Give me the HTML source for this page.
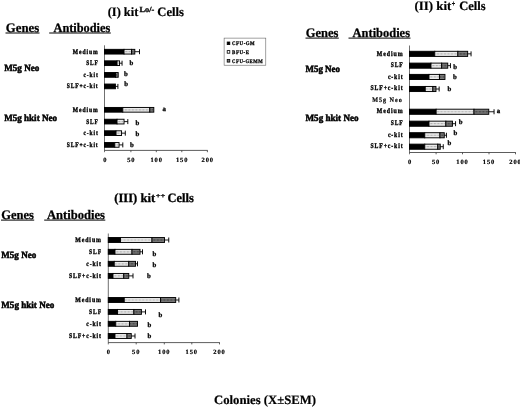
<!DOCTYPE html>
<html><head><meta charset="utf-8"><title>Figure</title>
<style>
html,body{margin:0;padding:0;background:#fff;}
svg{display:block;font-family:"Liberation Serif", serif;text-rendering:geometricPrecision;}
</style></head><body>
<svg width="520" height="407" viewBox="0 0 520 407">
<rect width="520" height="407" fill="#fff"/>
<g font-weight="bold">
<text x="107.7" y="16.3" font-size="12.8" textLength="30.60" lengthAdjust="spacingAndGlyphs" stroke="#000" stroke-width="0.2">(I) kit</text>
<text x="139.5" y="11.5" font-size="7.8" textLength="14.70" lengthAdjust="spacingAndGlyphs" stroke="#000" stroke-width="0.3">Lo/-</text>
<text x="157.3" y="16.3" font-size="12.8" textLength="26.70" lengthAdjust="spacingAndGlyphs" stroke="#000" stroke-width="0.2">Cells</text>
<text x="5.8" y="31.7" font-size="13" textLength="33.40" lengthAdjust="spacingAndGlyphs" stroke="#000" stroke-width="0.25">Genes</text>
<text x="53.5" y="31.7" font-size="13" textLength="56.80" lengthAdjust="spacingAndGlyphs" stroke="#000" stroke-width="0.25">Antibodies</text>
<line x1="5.50" y1="33.00" x2="39.50" y2="33.00" stroke="#000" stroke-width="1.0"/>
<line x1="49.20" y1="33.00" x2="110.80" y2="33.00" stroke="#000" stroke-width="1.0"/>
<text x="4.2" y="71.4" font-size="9.5" textLength="35.10" lengthAdjust="spacingAndGlyphs" stroke="#000" stroke-width="0.5">M5g Neo</text>
<text x="4.2" y="121.0" font-size="9.5" textLength="52.80" lengthAdjust="spacingAndGlyphs" stroke="#000" stroke-width="0.5">M5g hkit Neo</text>
<text x="72.80" y="53.60" font-size="6.9" letter-spacing="1.1" textLength="25.80" lengthAdjust="spacingAndGlyphs" stroke="#000" stroke-width="0.35">Medium</text>
<text x="86.20" y="65.10" font-size="6.9" letter-spacing="1.1" textLength="12.40" lengthAdjust="spacingAndGlyphs" stroke="#000" stroke-width="0.35">SLF</text>
<text x="83.50" y="76.80" font-size="6.9" letter-spacing="1.1" textLength="15.10" lengthAdjust="spacingAndGlyphs" stroke="#000" stroke-width="0.35">c-kit</text>
<text x="66.70" y="88.30" font-size="6.9" letter-spacing="1.1" textLength="31.90" lengthAdjust="spacingAndGlyphs" stroke="#000" stroke-width="0.35">SLF+c-kit</text>
<text x="72.80" y="111.70" font-size="6.9" letter-spacing="1.1" textLength="25.80" lengthAdjust="spacingAndGlyphs" stroke="#000" stroke-width="0.35">Medium</text>
<text x="86.20" y="123.50" font-size="6.9" letter-spacing="1.1" textLength="12.40" lengthAdjust="spacingAndGlyphs" stroke="#000" stroke-width="0.35">SLF</text>
<text x="83.50" y="135.05" font-size="6.9" letter-spacing="1.1" textLength="15.10" lengthAdjust="spacingAndGlyphs" stroke="#000" stroke-width="0.35">c-kit</text>
<text x="66.70" y="146.80" font-size="6.9" letter-spacing="1.1" textLength="31.90" lengthAdjust="spacingAndGlyphs" stroke="#000" stroke-width="0.35">SLF+c-kit</text>
<line x1="104.50" y1="45.30" x2="104.50" y2="152.20" stroke="#222" stroke-width="0.65"/>
<line x1="104.50" y1="150.40" x2="207.70" y2="150.40" stroke="#333" stroke-width="0.8"/>
<text x="105.4" y="161.6" font-size="6.5" text-anchor="middle" letter-spacing="0.9" stroke="#000" stroke-width="0.2">0</text>
<line x1="130.90" y1="150.40" x2="130.90" y2="152.20" stroke="#333" stroke-width="0.8"/>
<text x="131.3" y="161.6" font-size="6.5" text-anchor="middle" letter-spacing="0.9" stroke="#000" stroke-width="0.2">50</text>
<line x1="156.30" y1="150.40" x2="156.30" y2="152.20" stroke="#333" stroke-width="0.8"/>
<text x="156.70000000000002" y="161.6" font-size="6.5" text-anchor="middle" letter-spacing="0.9" stroke="#000" stroke-width="0.2">100</text>
<line x1="181.80" y1="150.40" x2="181.80" y2="152.20" stroke="#333" stroke-width="0.8"/>
<text x="182.20000000000002" y="161.6" font-size="6.5" text-anchor="middle" letter-spacing="0.9" stroke="#000" stroke-width="0.2">150</text>
<line x1="207.40" y1="150.40" x2="207.40" y2="152.20" stroke="#333" stroke-width="0.8"/>
<text x="207.8" y="161.6" font-size="6.5" text-anchor="middle" letter-spacing="0.9" stroke="#000" stroke-width="0.2">200</text>
<rect x="104.50" y="49.35" width="19.55" height="4.70" fill="#000" stroke="#000" stroke-width="0.95"/>
<rect x="124.05" y="49.35" width="7.50" height="4.70" fill="#ebebeb" stroke="#000" stroke-width="0.95"/>
<line x1="124.85" y1="51.70" x2="130.95" y2="51.70" stroke="#9a9a9a" stroke-width="1.2" stroke-dasharray="0.7 0.7"/>
<rect x="131.55" y="49.35" width="3.25" height="4.70" fill="#7a7a7a" stroke="#000" stroke-width="0.95"/>
<line x1="132.35" y1="51.70" x2="134.20" y2="51.70" stroke="#3c3c3c" stroke-width="1.6" stroke-dasharray="0.7 0.7"/>
<line x1="134.80" y1="51.70" x2="139.50" y2="51.70" stroke="#000" stroke-width="0.9"/>
<line x1="139.50" y1="49.20" x2="139.50" y2="54.20" stroke="#000" stroke-width="0.95"/>
<rect x="104.50" y="60.85" width="12.55" height="4.70" fill="#000" stroke="#000" stroke-width="0.95"/>
<rect x="117.05" y="60.85" width="2.50" height="4.70" fill="#ebebeb" stroke="#000" stroke-width="0.95"/>
<line x1="117.85" y1="63.20" x2="118.95" y2="63.20" stroke="#9a9a9a" stroke-width="1.2" stroke-dasharray="0.7 0.7"/>
<line x1="119.55" y1="63.20" x2="122.05" y2="63.20" stroke="#000" stroke-width="0.9"/>
<line x1="122.05" y1="60.70" x2="122.05" y2="65.70" stroke="#000" stroke-width="0.95"/>
<text x="131.3" y="64.5" font-size="6.8" text-anchor="middle" stroke="#000" stroke-width="0.3">b</text>
<rect x="104.50" y="72.55" width="11.00" height="4.70" fill="#000" stroke="#000" stroke-width="0.95"/>
<rect x="115.50" y="72.55" width="2.70" height="4.70" fill="#7a7a7a" stroke="#000" stroke-width="0.95"/>
<line x1="116.30" y1="74.90" x2="117.60" y2="74.90" stroke="#3c3c3c" stroke-width="1.6" stroke-dasharray="0.7 0.7"/>
<text x="126" y="75.8" font-size="6.8" text-anchor="middle" stroke="#000" stroke-width="0.3">b</text>
<rect x="104.50" y="84.05" width="10.90" height="4.70" fill="#000" stroke="#000" stroke-width="0.95"/>
<line x1="115.40" y1="86.40" x2="117.90" y2="86.40" stroke="#000" stroke-width="0.9"/>
<line x1="117.90" y1="83.90" x2="117.90" y2="88.90" stroke="#000" stroke-width="0.95"/>
<text x="126.2" y="86.2" font-size="6.8" text-anchor="middle" stroke="#000" stroke-width="0.3">b</text>
<rect x="104.50" y="107.45" width="18.30" height="4.70" fill="#000" stroke="#000" stroke-width="0.95"/>
<rect x="122.80" y="107.45" width="27.00" height="4.70" fill="#ebebeb" stroke="#000" stroke-width="0.95"/>
<line x1="123.60" y1="109.80" x2="149.20" y2="109.80" stroke="#9a9a9a" stroke-width="1.2" stroke-dasharray="0.7 0.7"/>
<rect x="149.80" y="107.45" width="4.00" height="4.70" fill="#7a7a7a" stroke="#000" stroke-width="0.95"/>
<line x1="150.60" y1="109.80" x2="153.20" y2="109.80" stroke="#3c3c3c" stroke-width="1.6" stroke-dasharray="0.7 0.7"/>
<text x="164.3" y="111.0" font-size="6.8" text-anchor="middle" stroke="#000" stroke-width="0.3">a</text>
<rect x="104.50" y="119.25" width="12.55" height="4.70" fill="#000" stroke="#000" stroke-width="0.95"/>
<rect x="117.05" y="119.25" width="7.00" height="4.70" fill="#ebebeb" stroke="#000" stroke-width="0.95"/>
<line x1="117.85" y1="121.60" x2="123.45" y2="121.60" stroke="#9a9a9a" stroke-width="1.2" stroke-dasharray="0.7 0.7"/>
<line x1="124.05" y1="121.60" x2="127.80" y2="121.60" stroke="#000" stroke-width="0.9"/>
<line x1="127.80" y1="119.10" x2="127.80" y2="124.10" stroke="#000" stroke-width="0.95"/>
<text x="137.4" y="124.8" font-size="6.8" text-anchor="middle" stroke="#000" stroke-width="0.3">b</text>
<rect x="104.50" y="130.80" width="11.55" height="4.70" fill="#000" stroke="#000" stroke-width="0.95"/>
<rect x="116.05" y="130.80" width="5.50" height="4.70" fill="#ebebeb" stroke="#000" stroke-width="0.95"/>
<line x1="116.85" y1="133.15" x2="120.95" y2="133.15" stroke="#9a9a9a" stroke-width="1.2" stroke-dasharray="0.7 0.7"/>
<line x1="121.55" y1="133.15" x2="125.30" y2="133.15" stroke="#000" stroke-width="0.9"/>
<line x1="125.30" y1="130.65" x2="125.30" y2="135.65" stroke="#000" stroke-width="0.95"/>
<text x="137.4" y="135.8" font-size="6.8" text-anchor="middle" stroke="#000" stroke-width="0.3">b</text>
<rect x="104.50" y="142.55" width="10.30" height="4.70" fill="#000" stroke="#000" stroke-width="0.95"/>
<rect x="114.80" y="142.55" width="4.25" height="4.70" fill="#ebebeb" stroke="#000" stroke-width="0.95"/>
<line x1="115.60" y1="144.90" x2="118.45" y2="144.90" stroke="#9a9a9a" stroke-width="1.2" stroke-dasharray="0.7 0.7"/>
<line x1="119.05" y1="144.90" x2="122.80" y2="144.90" stroke="#000" stroke-width="0.9"/>
<line x1="122.80" y1="142.40" x2="122.80" y2="147.40" stroke="#000" stroke-width="0.95"/>
<text x="131.8" y="146.8" font-size="6.8" text-anchor="middle" stroke="#000" stroke-width="0.3">b</text>
<rect x="224.10" y="38.10" width="41.70" height="27.10" fill="#fff" stroke="#555" stroke-width="0.55"/>
<rect x="227.20" y="42.00" width="2.60" height="2.60" fill="#000" stroke="#000" stroke-width="0.8"/>
<text x="232.1" y="45.10" font-size="5.4" letter-spacing="0.6" textLength="23.10" lengthAdjust="spacingAndGlyphs" stroke="#000" stroke-width="0.28">CFU-GM</text>
<rect x="227.20" y="50.60" width="2.60" height="2.60" fill="#fff" stroke="#000" stroke-width="0.8"/>
<text x="232.1" y="53.70" font-size="5.4" letter-spacing="0.6" textLength="17.40" lengthAdjust="spacingAndGlyphs" stroke="#000" stroke-width="0.28">BFU-E</text>
<rect x="227.20" y="59.50" width="2.60" height="2.60" fill="#7a7a7a" stroke="#000" stroke-width="0.8"/>
<text x="232.1" y="62.60" font-size="5.4" letter-spacing="0.6" textLength="31.00" lengthAdjust="spacingAndGlyphs" stroke="#000" stroke-width="0.28">CFU-GEMM</text>
<text x="414.4" y="10" font-size="12.8" textLength="36.90" lengthAdjust="spacingAndGlyphs" stroke="#000" stroke-width="0.2">(II) kit</text>
<text x="451.8" y="5.8" font-size="7.5" textLength="3.40" lengthAdjust="spacingAndGlyphs" stroke="#000" stroke-width="0.3">+</text>
<text x="459.2" y="10" font-size="12.8" textLength="26.50" lengthAdjust="spacingAndGlyphs" stroke="#000" stroke-width="0.2">Cells</text>
<text x="305.8" y="36.8" font-size="13" textLength="32.70" lengthAdjust="spacingAndGlyphs" stroke="#000" stroke-width="0.25">Genes</text>
<text x="352.6" y="36.8" font-size="13" textLength="57.40" lengthAdjust="spacingAndGlyphs" stroke="#000" stroke-width="0.25">Antibodies</text>
<line x1="305.50" y1="38.10" x2="338.80" y2="38.10" stroke="#000" stroke-width="1.0"/>
<line x1="348.50" y1="38.10" x2="410.50" y2="38.10" stroke="#000" stroke-width="1.0"/>
<text x="305.5" y="71.5" font-size="9.5" textLength="34.50" lengthAdjust="spacingAndGlyphs" stroke="#000" stroke-width="0.5">M5g Neo</text>
<text x="305.5" y="121.0" font-size="9.5" textLength="53.10" lengthAdjust="spacingAndGlyphs" stroke="#000" stroke-width="0.5">M5g hkit Neo</text>
<text x="376.81" y="55.60" font-size="7.1" letter-spacing="1.1" textLength="26.69" lengthAdjust="spacingAndGlyphs" stroke="#000" stroke-width="0.35">Medium</text>
<text x="390.68" y="67.40" font-size="7.1" letter-spacing="1.1" textLength="12.82" lengthAdjust="spacingAndGlyphs" stroke="#000" stroke-width="0.35">SLF</text>
<text x="387.89" y="78.70" font-size="7.1" letter-spacing="1.1" textLength="15.61" lengthAdjust="spacingAndGlyphs" stroke="#000" stroke-width="0.35">c-kit</text>
<text x="370.50" y="90.30" font-size="7.1" letter-spacing="1.1" textLength="33.00" lengthAdjust="spacingAndGlyphs" stroke="#000" stroke-width="0.35">SLF+c-kit</text>
<text x="376.81" y="113.10" font-size="7.1" letter-spacing="1.1" textLength="26.69" lengthAdjust="spacingAndGlyphs" stroke="#000" stroke-width="0.35">Medium</text>
<text x="390.68" y="125.40" font-size="7.1" letter-spacing="1.1" textLength="12.82" lengthAdjust="spacingAndGlyphs" stroke="#000" stroke-width="0.35">SLF</text>
<text x="387.89" y="136.90" font-size="7.1" letter-spacing="1.1" textLength="15.61" lengthAdjust="spacingAndGlyphs" stroke="#000" stroke-width="0.35">c-kit</text>
<text x="370.50" y="148.20" font-size="7.1" letter-spacing="1.1" textLength="33.00" lengthAdjust="spacingAndGlyphs" stroke="#000" stroke-width="0.35">SLF+c-kit</text>
<text x="372.2" y="102.3" font-size="6.8" letter-spacing="1.1" textLength="30.6" lengthAdjust="spacingAndGlyphs" stroke="#000" stroke-width="0.2">M5g Neo</text>
<line x1="409.50" y1="45.50" x2="409.50" y2="154.30" stroke="#222" stroke-width="0.65"/>
<line x1="409.50" y1="152.50" x2="515.80" y2="152.50" stroke="#333" stroke-width="0.8"/>
<text x="410.0" y="163.6" font-size="6.5" text-anchor="middle" letter-spacing="0.9" stroke="#000" stroke-width="0.2">0</text>
<line x1="436.10" y1="152.50" x2="436.10" y2="154.30" stroke="#333" stroke-width="0.8"/>
<text x="436.1" y="163.6" font-size="6.5" text-anchor="middle" letter-spacing="0.9" stroke="#000" stroke-width="0.2">50</text>
<line x1="462.50" y1="152.50" x2="462.50" y2="154.30" stroke="#333" stroke-width="0.8"/>
<text x="462.5" y="163.6" font-size="6.5" text-anchor="middle" letter-spacing="0.9" stroke="#000" stroke-width="0.2">100</text>
<line x1="489.00" y1="152.50" x2="489.00" y2="154.30" stroke="#333" stroke-width="0.8"/>
<text x="489.0" y="163.6" font-size="6.5" text-anchor="middle" letter-spacing="0.9" stroke="#000" stroke-width="0.2">150</text>
<line x1="515.50" y1="152.50" x2="515.50" y2="154.30" stroke="#333" stroke-width="0.8"/>
<text x="515.5" y="163.6" font-size="6.5" text-anchor="middle" letter-spacing="0.9" stroke="#000" stroke-width="0.2">200</text>
<rect x="409.50" y="51.30" width="25.25" height="5.10" fill="#000" stroke="#000" stroke-width="0.95"/>
<rect x="434.75" y="51.30" width="23.10" height="5.10" fill="#ebebeb" stroke="#000" stroke-width="0.95"/>
<line x1="435.55" y1="53.85" x2="457.25" y2="53.85" stroke="#9a9a9a" stroke-width="1.2" stroke-dasharray="0.7 0.7"/>
<rect x="457.85" y="51.30" width="9.80" height="5.10" fill="#7a7a7a" stroke="#000" stroke-width="0.95"/>
<line x1="458.65" y1="53.85" x2="467.05" y2="53.85" stroke="#3c3c3c" stroke-width="1.6" stroke-dasharray="0.7 0.7"/>
<line x1="467.65" y1="53.85" x2="471.05" y2="53.85" stroke="#000" stroke-width="0.9"/>
<line x1="471.05" y1="51.35" x2="471.05" y2="56.35" stroke="#000" stroke-width="0.95"/>
<rect x="409.50" y="63.10" width="21.50" height="5.10" fill="#000" stroke="#000" stroke-width="0.95"/>
<rect x="431.00" y="63.10" width="10.65" height="5.10" fill="#ebebeb" stroke="#000" stroke-width="0.95"/>
<line x1="431.80" y1="65.65" x2="441.05" y2="65.65" stroke="#9a9a9a" stroke-width="1.2" stroke-dasharray="0.7 0.7"/>
<rect x="441.65" y="63.10" width="6.10" height="5.10" fill="#7a7a7a" stroke="#000" stroke-width="0.95"/>
<line x1="442.45" y1="65.65" x2="447.15" y2="65.65" stroke="#3c3c3c" stroke-width="1.6" stroke-dasharray="0.7 0.7"/>
<line x1="447.75" y1="65.65" x2="450.45" y2="65.65" stroke="#000" stroke-width="0.9"/>
<line x1="450.45" y1="63.15" x2="450.45" y2="68.15" stroke="#000" stroke-width="0.95"/>
<text x="455.1" y="69.0" font-size="6.8" text-anchor="middle" stroke="#000" stroke-width="0.3">b</text>
<rect x="409.50" y="74.40" width="19.50" height="5.10" fill="#000" stroke="#000" stroke-width="0.95"/>
<rect x="429.00" y="74.40" width="10.45" height="5.10" fill="#ebebeb" stroke="#000" stroke-width="0.95"/>
<line x1="429.80" y1="76.95" x2="438.85" y2="76.95" stroke="#9a9a9a" stroke-width="1.2" stroke-dasharray="0.7 0.7"/>
<rect x="439.45" y="74.40" width="5.50" height="5.10" fill="#7a7a7a" stroke="#000" stroke-width="0.95"/>
<line x1="440.25" y1="76.95" x2="444.35" y2="76.95" stroke="#3c3c3c" stroke-width="1.6" stroke-dasharray="0.7 0.7"/>
<text x="455" y="79.4" font-size="6.8" text-anchor="middle" stroke="#000" stroke-width="0.3">b</text>
<rect x="409.50" y="86.45" width="15.75" height="5.10" fill="#000" stroke="#000" stroke-width="0.95"/>
<rect x="425.25" y="86.45" width="7.60" height="5.10" fill="#ebebeb" stroke="#000" stroke-width="0.95"/>
<line x1="426.05" y1="89.00" x2="432.25" y2="89.00" stroke="#9a9a9a" stroke-width="1.2" stroke-dasharray="0.7 0.7"/>
<rect x="432.85" y="86.45" width="3.10" height="5.10" fill="#7a7a7a" stroke="#000" stroke-width="0.95"/>
<line x1="433.65" y1="89.00" x2="435.35" y2="89.00" stroke="#3c3c3c" stroke-width="1.6" stroke-dasharray="0.7 0.7"/>
<line x1="435.95" y1="89.00" x2="439.15" y2="89.00" stroke="#000" stroke-width="0.9"/>
<line x1="439.15" y1="86.50" x2="439.15" y2="91.50" stroke="#000" stroke-width="0.95"/>
<text x="449.3" y="90.5" font-size="6.8" text-anchor="middle" stroke="#000" stroke-width="0.3">b</text>
<rect x="409.50" y="109.20" width="26.65" height="5.10" fill="#000" stroke="#000" stroke-width="0.95"/>
<rect x="436.15" y="109.20" width="37.85" height="5.10" fill="#ebebeb" stroke="#000" stroke-width="0.95"/>
<line x1="436.95" y1="111.75" x2="473.40" y2="111.75" stroke="#9a9a9a" stroke-width="1.2" stroke-dasharray="0.7 0.7"/>
<rect x="474.00" y="109.20" width="14.75" height="5.10" fill="#7a7a7a" stroke="#000" stroke-width="0.95"/>
<line x1="474.80" y1="111.75" x2="488.15" y2="111.75" stroke="#3c3c3c" stroke-width="1.6" stroke-dasharray="0.7 0.7"/>
<line x1="488.75" y1="111.75" x2="494.05" y2="111.75" stroke="#000" stroke-width="0.9"/>
<line x1="494.05" y1="109.25" x2="494.05" y2="114.25" stroke="#000" stroke-width="0.95"/>
<text x="498.5" y="112.5" font-size="6.8" text-anchor="middle" stroke="#000" stroke-width="0.3">a</text>
<rect x="409.50" y="121.15" width="19.50" height="5.10" fill="#000" stroke="#000" stroke-width="0.95"/>
<rect x="429.00" y="121.15" width="16.85" height="5.10" fill="#ebebeb" stroke="#000" stroke-width="0.95"/>
<line x1="429.80" y1="123.70" x2="445.25" y2="123.70" stroke="#9a9a9a" stroke-width="1.2" stroke-dasharray="0.7 0.7"/>
<rect x="445.85" y="121.15" width="6.60" height="5.10" fill="#7a7a7a" stroke="#000" stroke-width="0.95"/>
<line x1="446.65" y1="123.70" x2="451.85" y2="123.70" stroke="#3c3c3c" stroke-width="1.6" stroke-dasharray="0.7 0.7"/>
<line x1="452.45" y1="123.70" x2="455.55" y2="123.70" stroke="#000" stroke-width="0.9"/>
<line x1="455.55" y1="121.20" x2="455.55" y2="126.20" stroke="#000" stroke-width="0.95"/>
<text x="460.7" y="123.5" font-size="6.8" text-anchor="middle" stroke="#000" stroke-width="0.3">b</text>
<rect x="409.50" y="132.70" width="15.25" height="5.10" fill="#000" stroke="#000" stroke-width="0.95"/>
<rect x="424.75" y="132.70" width="15.20" height="5.10" fill="#ebebeb" stroke="#000" stroke-width="0.95"/>
<line x1="425.55" y1="135.25" x2="439.35" y2="135.25" stroke="#9a9a9a" stroke-width="1.2" stroke-dasharray="0.7 0.7"/>
<rect x="439.95" y="132.70" width="4.30" height="5.10" fill="#7a7a7a" stroke="#000" stroke-width="0.95"/>
<line x1="440.75" y1="135.25" x2="443.65" y2="135.25" stroke="#3c3c3c" stroke-width="1.6" stroke-dasharray="0.7 0.7"/>
<line x1="444.25" y1="135.25" x2="446.45" y2="135.25" stroke="#000" stroke-width="0.9"/>
<line x1="446.45" y1="132.75" x2="446.45" y2="137.75" stroke="#000" stroke-width="0.95"/>
<text x="455.3" y="134.7" font-size="6.8" text-anchor="middle" stroke="#000" stroke-width="0.3">b</text>
<rect x="409.50" y="144.15" width="15.25" height="5.10" fill="#000" stroke="#000" stroke-width="0.95"/>
<rect x="424.75" y="144.15" width="13.00" height="5.10" fill="#ebebeb" stroke="#000" stroke-width="0.95"/>
<line x1="425.55" y1="146.70" x2="437.15" y2="146.70" stroke="#9a9a9a" stroke-width="1.2" stroke-dasharray="0.7 0.7"/>
<rect x="437.75" y="144.15" width="2.50" height="5.10" fill="#7a7a7a" stroke="#000" stroke-width="0.95"/>
<line x1="438.55" y1="146.70" x2="439.65" y2="146.70" stroke="#3c3c3c" stroke-width="1.6" stroke-dasharray="0.7 0.7"/>
<line x1="440.25" y1="146.70" x2="443.25" y2="146.70" stroke="#000" stroke-width="0.9"/>
<line x1="443.25" y1="144.20" x2="443.25" y2="149.20" stroke="#000" stroke-width="0.95"/>
<text x="449.3" y="145.4" font-size="6.8" text-anchor="middle" stroke="#000" stroke-width="0.3">b</text>
<text x="114.2" y="201.8" font-size="12.8" textLength="41.00" lengthAdjust="spacingAndGlyphs" stroke="#000" stroke-width="0.3">(III) kit</text>
<text x="155.8" y="198.0" font-size="7.0" textLength="9.60" lengthAdjust="spacingAndGlyphs" stroke="#000" stroke-width="0.3">++</text>
<text x="167.5" y="201.8" font-size="12.8" textLength="26.30" lengthAdjust="spacingAndGlyphs" stroke="#000" stroke-width="0.3">Cells</text>
<text x="1.2" y="218.8" font-size="13" textLength="32.70" lengthAdjust="spacingAndGlyphs" stroke="#000" stroke-width="0.25">Genes</text>
<text x="46.9" y="218.8" font-size="13" textLength="58.10" lengthAdjust="spacingAndGlyphs" stroke="#000" stroke-width="0.25">Antibodies</text>
<line x1="1.00" y1="220.10" x2="34.20" y2="220.10" stroke="#000" stroke-width="1.0"/>
<line x1="44.20" y1="220.10" x2="105.30" y2="220.10" stroke="#000" stroke-width="1.0"/>
<text x="1.3" y="258.3" font-size="9.5" textLength="34.90" lengthAdjust="spacingAndGlyphs" stroke="#000" stroke-width="0.5">M5g Neo</text>
<text x="1.3" y="307.6" font-size="9.5" textLength="53.00" lengthAdjust="spacingAndGlyphs" stroke="#000" stroke-width="0.5">M5g hkit Neo</text>
<text x="75.21" y="241.90" font-size="7.0" letter-spacing="1.1" textLength="26.69" lengthAdjust="spacingAndGlyphs" stroke="#000" stroke-width="0.35">Medium</text>
<text x="89.08" y="253.70" font-size="7.0" letter-spacing="1.1" textLength="12.82" lengthAdjust="spacingAndGlyphs" stroke="#000" stroke-width="0.35">SLF</text>
<text x="86.29" y="265.70" font-size="7.0" letter-spacing="1.1" textLength="15.61" lengthAdjust="spacingAndGlyphs" stroke="#000" stroke-width="0.35">c-kit</text>
<text x="68.90" y="277.80" font-size="7.0" letter-spacing="1.1" textLength="33.00" lengthAdjust="spacingAndGlyphs" stroke="#000" stroke-width="0.35">SLF+c-kit</text>
<text x="75.21" y="301.90" font-size="7.0" letter-spacing="1.1" textLength="26.69" lengthAdjust="spacingAndGlyphs" stroke="#000" stroke-width="0.35">Medium</text>
<text x="89.08" y="313.80" font-size="7.0" letter-spacing="1.1" textLength="12.82" lengthAdjust="spacingAndGlyphs" stroke="#000" stroke-width="0.35">SLF</text>
<text x="86.29" y="325.70" font-size="7.0" letter-spacing="1.1" textLength="15.61" lengthAdjust="spacingAndGlyphs" stroke="#000" stroke-width="0.35">c-kit</text>
<text x="68.90" y="337.90" font-size="7.0" letter-spacing="1.1" textLength="33.00" lengthAdjust="spacingAndGlyphs" stroke="#000" stroke-width="0.35">SLF+c-kit</text>
<line x1="108.30" y1="233.50" x2="108.30" y2="344.40" stroke="#222" stroke-width="0.65"/>
<line x1="108.30" y1="342.60" x2="219.80" y2="342.60" stroke="#333" stroke-width="0.8"/>
<text x="108.8" y="353.6" font-size="6.5" text-anchor="middle" letter-spacing="0.9" stroke="#000" stroke-width="0.2">0</text>
<line x1="136.20" y1="342.60" x2="136.20" y2="344.40" stroke="#333" stroke-width="0.8"/>
<text x="136.2" y="353.6" font-size="6.5" text-anchor="middle" letter-spacing="0.9" stroke="#000" stroke-width="0.2">50</text>
<line x1="164.30" y1="342.60" x2="164.30" y2="344.40" stroke="#333" stroke-width="0.8"/>
<text x="164.3" y="353.6" font-size="6.5" text-anchor="middle" letter-spacing="0.9" stroke="#000" stroke-width="0.2">100</text>
<line x1="191.80" y1="342.60" x2="191.80" y2="344.40" stroke="#333" stroke-width="0.8"/>
<text x="191.8" y="353.6" font-size="6.5" text-anchor="middle" letter-spacing="0.9" stroke="#000" stroke-width="0.2">150</text>
<line x1="219.50" y1="342.60" x2="219.50" y2="344.40" stroke="#333" stroke-width="0.8"/>
<text x="219.5" y="353.6" font-size="6.5" text-anchor="middle" letter-spacing="0.9" stroke="#000" stroke-width="0.2">200</text>
<rect x="108.30" y="237.55" width="12.20" height="4.90" fill="#000" stroke="#000" stroke-width="0.95"/>
<rect x="120.50" y="237.55" width="31.50" height="4.90" fill="#ebebeb" stroke="#000" stroke-width="0.95"/>
<line x1="121.30" y1="240.00" x2="151.40" y2="240.00" stroke="#9a9a9a" stroke-width="1.2" stroke-dasharray="0.7 0.7"/>
<rect x="152.00" y="237.55" width="12.50" height="4.90" fill="#7a7a7a" stroke="#000" stroke-width="0.95"/>
<line x1="152.80" y1="240.00" x2="163.90" y2="240.00" stroke="#3c3c3c" stroke-width="1.6" stroke-dasharray="0.7 0.7"/>
<line x1="164.50" y1="240.00" x2="168.75" y2="240.00" stroke="#000" stroke-width="0.9"/>
<line x1="168.75" y1="237.50" x2="168.75" y2="242.50" stroke="#000" stroke-width="0.95"/>
<rect x="108.30" y="249.35" width="6.70" height="4.90" fill="#000" stroke="#000" stroke-width="0.95"/>
<rect x="115.00" y="249.35" width="17.00" height="4.90" fill="#ebebeb" stroke="#000" stroke-width="0.95"/>
<line x1="115.80" y1="251.80" x2="131.40" y2="251.80" stroke="#9a9a9a" stroke-width="1.2" stroke-dasharray="0.7 0.7"/>
<rect x="132.00" y="249.35" width="8.00" height="4.90" fill="#7a7a7a" stroke="#000" stroke-width="0.95"/>
<line x1="132.80" y1="251.80" x2="139.40" y2="251.80" stroke="#3c3c3c" stroke-width="1.6" stroke-dasharray="0.7 0.7"/>
<line x1="140.00" y1="251.80" x2="142.50" y2="251.80" stroke="#000" stroke-width="0.9"/>
<line x1="142.50" y1="249.30" x2="142.50" y2="254.30" stroke="#000" stroke-width="0.95"/>
<text x="154.5" y="255.8" font-size="6.8" text-anchor="middle" stroke="#000" stroke-width="0.3">b</text>
<rect x="108.30" y="261.35" width="5.95" height="4.90" fill="#000" stroke="#000" stroke-width="0.95"/>
<rect x="114.25" y="261.35" width="14.50" height="4.90" fill="#ebebeb" stroke="#000" stroke-width="0.95"/>
<line x1="115.05" y1="263.80" x2="128.15" y2="263.80" stroke="#9a9a9a" stroke-width="1.2" stroke-dasharray="0.7 0.7"/>
<rect x="128.75" y="261.35" width="6.75" height="4.90" fill="#7a7a7a" stroke="#000" stroke-width="0.95"/>
<line x1="129.55" y1="263.80" x2="134.90" y2="263.80" stroke="#3c3c3c" stroke-width="1.6" stroke-dasharray="0.7 0.7"/>
<line x1="135.50" y1="263.80" x2="137.50" y2="263.80" stroke="#000" stroke-width="0.9"/>
<line x1="137.50" y1="261.30" x2="137.50" y2="266.30" stroke="#000" stroke-width="0.95"/>
<text x="154.5" y="267.0" font-size="6.8" text-anchor="middle" stroke="#000" stroke-width="0.3">b</text>
<rect x="108.30" y="273.45" width="4.70" height="4.90" fill="#000" stroke="#000" stroke-width="0.95"/>
<rect x="113.00" y="273.45" width="10.75" height="4.90" fill="#ebebeb" stroke="#000" stroke-width="0.95"/>
<line x1="113.80" y1="275.90" x2="123.15" y2="275.90" stroke="#9a9a9a" stroke-width="1.2" stroke-dasharray="0.7 0.7"/>
<rect x="123.75" y="273.45" width="5.00" height="4.90" fill="#7a7a7a" stroke="#000" stroke-width="0.95"/>
<line x1="124.55" y1="275.90" x2="128.15" y2="275.90" stroke="#3c3c3c" stroke-width="1.6" stroke-dasharray="0.7 0.7"/>
<line x1="128.75" y1="275.90" x2="133.00" y2="275.90" stroke="#000" stroke-width="0.9"/>
<line x1="133.00" y1="273.40" x2="133.00" y2="278.40" stroke="#000" stroke-width="0.95"/>
<text x="148.8" y="277.8" font-size="6.8" text-anchor="middle" stroke="#000" stroke-width="0.3">b</text>
<rect x="108.30" y="297.55" width="15.95" height="4.90" fill="#000" stroke="#000" stroke-width="0.95"/>
<rect x="124.25" y="297.55" width="36.35" height="4.90" fill="#ebebeb" stroke="#000" stroke-width="0.95"/>
<line x1="125.05" y1="300.00" x2="160.00" y2="300.00" stroke="#9a9a9a" stroke-width="1.2" stroke-dasharray="0.7 0.7"/>
<rect x="160.60" y="297.55" width="15.10" height="4.90" fill="#7a7a7a" stroke="#000" stroke-width="0.95"/>
<line x1="161.40" y1="300.00" x2="175.10" y2="300.00" stroke="#3c3c3c" stroke-width="1.6" stroke-dasharray="0.7 0.7"/>
<line x1="175.70" y1="300.00" x2="178.90" y2="300.00" stroke="#000" stroke-width="0.9"/>
<line x1="178.90" y1="297.50" x2="178.90" y2="302.50" stroke="#000" stroke-width="0.95"/>
<rect x="108.30" y="309.45" width="9.20" height="4.90" fill="#000" stroke="#000" stroke-width="0.95"/>
<rect x="117.50" y="309.45" width="16.40" height="4.90" fill="#ebebeb" stroke="#000" stroke-width="0.95"/>
<line x1="118.30" y1="311.90" x2="133.30" y2="311.90" stroke="#9a9a9a" stroke-width="1.2" stroke-dasharray="0.7 0.7"/>
<rect x="133.90" y="309.45" width="7.50" height="4.90" fill="#7a7a7a" stroke="#000" stroke-width="0.95"/>
<line x1="134.70" y1="311.90" x2="140.80" y2="311.90" stroke="#3c3c3c" stroke-width="1.6" stroke-dasharray="0.7 0.7"/>
<line x1="141.40" y1="311.90" x2="145.50" y2="311.90" stroke="#000" stroke-width="0.9"/>
<line x1="145.50" y1="309.40" x2="145.50" y2="314.40" stroke="#000" stroke-width="0.95"/>
<text x="160.4" y="316.5" font-size="6.8" text-anchor="middle" stroke="#000" stroke-width="0.3">b</text>
<rect x="108.30" y="321.35" width="7.45" height="4.90" fill="#000" stroke="#000" stroke-width="0.95"/>
<rect x="115.75" y="321.35" width="13.75" height="4.90" fill="#ebebeb" stroke="#000" stroke-width="0.95"/>
<line x1="116.55" y1="323.80" x2="128.90" y2="323.80" stroke="#9a9a9a" stroke-width="1.2" stroke-dasharray="0.7 0.7"/>
<rect x="129.50" y="321.35" width="8.00" height="4.90" fill="#7a7a7a" stroke="#000" stroke-width="0.95"/>
<line x1="130.30" y1="323.80" x2="136.90" y2="323.80" stroke="#3c3c3c" stroke-width="1.6" stroke-dasharray="0.7 0.7"/>
<text x="149.3" y="327.3" font-size="6.8" text-anchor="middle" stroke="#000" stroke-width="0.3">b</text>
<rect x="108.30" y="333.55" width="6.70" height="4.90" fill="#000" stroke="#000" stroke-width="0.95"/>
<rect x="115.00" y="333.55" width="12.00" height="4.90" fill="#ebebeb" stroke="#000" stroke-width="0.95"/>
<line x1="115.80" y1="336.00" x2="126.40" y2="336.00" stroke="#9a9a9a" stroke-width="1.2" stroke-dasharray="0.7 0.7"/>
<rect x="127.00" y="333.55" width="4.25" height="4.90" fill="#7a7a7a" stroke="#000" stroke-width="0.95"/>
<line x1="127.80" y1="336.00" x2="130.65" y2="336.00" stroke="#3c3c3c" stroke-width="1.6" stroke-dasharray="0.7 0.7"/>
<line x1="131.25" y1="336.00" x2="135.00" y2="336.00" stroke="#000" stroke-width="0.9"/>
<line x1="135.00" y1="333.50" x2="135.00" y2="338.50" stroke="#000" stroke-width="0.95"/>
<text x="149.3" y="337.8" font-size="6.8" text-anchor="middle" stroke="#000" stroke-width="0.3">b</text>
<text x="214" y="404" font-size="12.8" textLength="102.00" lengthAdjust="spacingAndGlyphs" stroke="#000" stroke-width="0.2">Colonies (X±SEM)</text>
</g>
</svg>
</body></html>
